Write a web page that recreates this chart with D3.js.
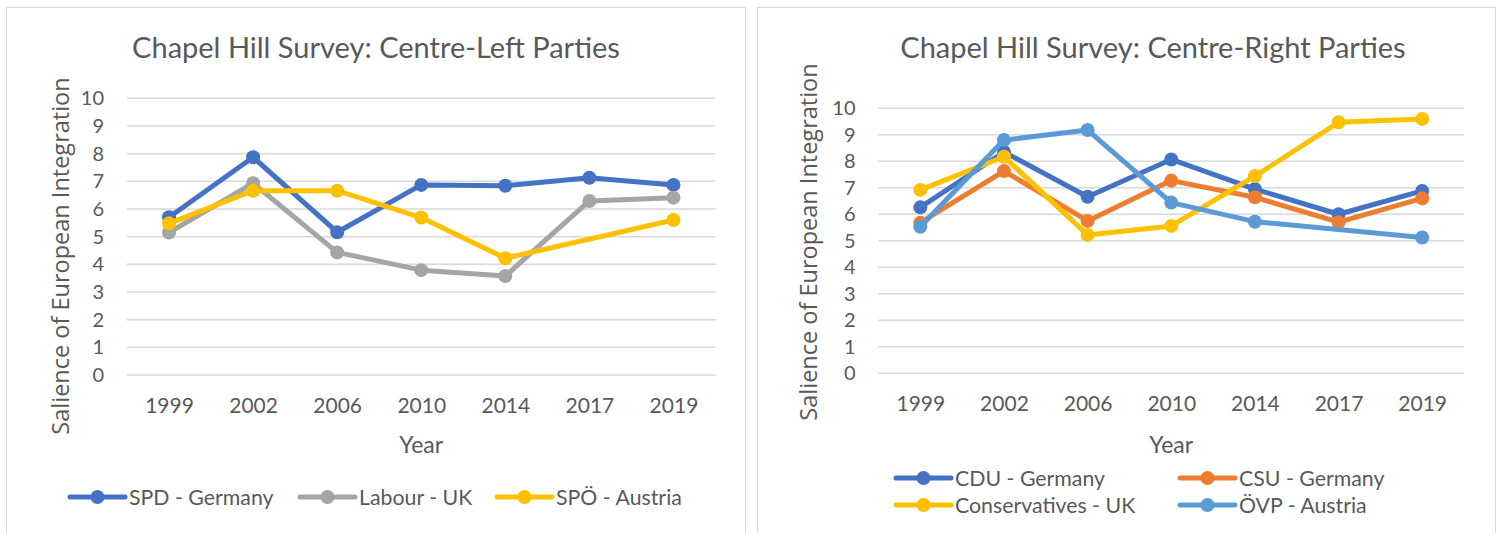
<!DOCTYPE html>
<html><head><meta charset="utf-8">
<script src="https://cdnjs.cloudflare.com/ajax/libs/d3/7.8.5/d3.min.js"></script>
<style>body{margin:0;background:#fff}svg{display:block}</style>
</head><body>
<svg id="c" width="1498" height="533"></svg>
<script>
const years = ["1999","2002","2006","2010","2014","2017","2019"];
const yTicks = [0,1,2,3,4,5,6,7,8,9,10];

const leftNames = ["SPD - Germany","Labour - UK","SPÖ - Austria"];
const leftColors = ["#4472C4","#A5A5A5","#FFC000"];
const spd = [5.7, 7.87, 5.16, 6.87, 6.84, 7.13, 6.87];
const labour = [5.15, 6.93, 4.43, 3.79, 3.58, 6.29, 6.41];
const spo = [5.48, 6.66, 6.66, 5.69, 4.22, null, 5.6];

const rightNames = ["CDU - Germany","CSU - Germany","Conservatives - UK","ÖVP - Austria"];
const rightColors = ["#4472C4","#ED7D31","#FFC000","#5B9BD5"];
const cdu = [6.26, 8.35, 6.66, 8.07, 6.95, 6.0, 6.88];
const csu = [5.68, 7.63, 5.75, 7.27, 6.64, 5.7, 6.6];
const cons = [6.92, 8.17, 5.22, 5.56, 7.44, 9.47, 9.6];
const ovp = [5.53, 8.8, 9.18, 6.44, 5.72, null, 5.12];

const svg = d3.select("#c");
const txt = "#595959";
const calibri = "Lato, 'Liberation Sans', sans-serif";

function panel(cfg){
  const g = svg.append("g");
  g.append("rect").attr("x",cfg.bx+0.5).attr("y",7.5).attr("width",cfg.bw).attr("height",540)
    .attr("fill","#fff").attr("stroke","#d9d9d9").attr("stroke-width",1);
  const x = d3.scalePoint().domain(years).range([cfg.x0,cfg.x1]).padding(0.5);
  const y = d3.scaleLinear().domain([0,10]).range([cfg.y0,cfg.y10]);
  // gridlines
  g.append("g").selectAll("line").data(yTicks).join("line")
    .attr("x1",cfg.x0).attr("x2",cfg.x1).attr("y1",d=>y(d)).attr("y2",d=>y(d))
    .attr("stroke","#d9d9d9").attr("stroke-width",1.5);
  // y axis labels
  const ya = g.append("g").attr("transform",`translate(${cfg.x0-8},0)`)
    .call(d3.axisLeft(y).tickValues(yTicks).tickSize(0).tickPadding(15));
  ya.select(".domain").remove();
  ya.selectAll("text").attr("fill",txt).attr("font-family",calibri).attr("font-size",20);
  // x axis labels
  const xa = g.append("g").attr("transform",`translate(0,${cfg.y0})`)
    .call(d3.axisBottom(x).tickSize(0).tickPadding(23));
  xa.select(".domain").remove();
  xa.selectAll("text").attr("fill",txt).attr("font-family",calibri).attr("font-size",21);
  // title
  g.append("text").attr("x",cfg.tx).attr("y",58).attr("text-anchor","middle")
    .attr("fill",txt).attr("font-family",calibri).attr("font-size",29).text(cfg.title);
  // axis titles
  g.append("text").attr("x",(cfg.x0+cfg.x1)/2).attr("y",453).attr("text-anchor","middle")
    .attr("fill",txt).attr("font-family",calibri).attr("font-size",23).text("Year");
  g.append("text").attr("transform",`translate(${cfg.ytx},${cfg.yty}) rotate(-90)`)
    .attr("text-anchor","middle").attr("fill",txt)
    .attr("font-family","'Open Sans', 'Noto Sans', sans-serif").attr("font-size",23.5)
    .text("Salience of European Integration");
  // series
  cfg.series.forEach((s,k)=>{
    const pts = s.map((v,i)=>[years[i],v]).filter(p=>p[1]!=null);
    g.append("path").datum(pts).attr("fill","none").attr("stroke",cfg.colors[k])
      .attr("stroke-width",5).attr("stroke-linejoin","round").attr("stroke-linecap","round")
      .attr("d",d3.line().x(p=>x(p[0])).y(p=>y(p[1])));
    g.append("g").selectAll("circle").data(pts).join("circle")
      .attr("cx",p=>x(p[0])).attr("cy",p=>y(p[1])).attr("r",7).attr("fill",cfg.colors[k]);
  });
  // legend
  cfg.names.forEach((n,k)=>{
    const [lx,ly] = cfg.legendPos[k];
    g.append("line").attr("x1",lx).attr("x2",lx+55).attr("y1",ly).attr("y2",ly)
      .attr("stroke",cfg.colors[k]).attr("stroke-width",5).attr("stroke-linecap","round");
    g.append("circle").attr("cx",lx+27.5).attr("cy",ly).attr("r",7).attr("fill",cfg.colors[k]);
    g.append("text").attr("x",lx+59).attr("y",ly+7.5).attr("fill",txt)
      .attr("font-family",calibri).attr("font-size",21.3).text(n);
  });
}

panel({bx:6,bw:739,x0:127,x1:715.5,y0:375,y10:98.3,tx:376,ytx:69,yty:256,
  title:"Chapel Hill Survey: Centre-Left Parties",
  series:[spd,labour,spo],colors:leftColors,names:leftNames,
  legendPos:[[70,497],[300,497],[497,497]]});
panel({bx:757,bw:738,x0:878.5,x1:1464,y0:373.2,y10:108.3,tx:1153,ytx:817,yty:242,
  title:"Chapel Hill Survey: Centre-Right Parties",
  series:[cdu,csu,cons,ovp],colors:rightColors,names:rightNames,
  legendPos:[[896,478],[1180,478],[896,505],[1180,505]]});
</script>
</body></html>
